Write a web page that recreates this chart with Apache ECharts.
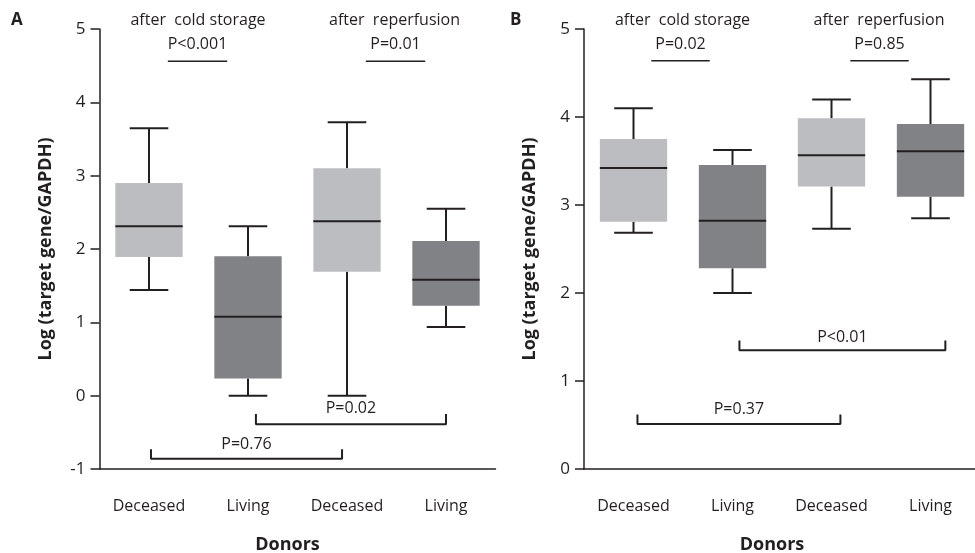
<!DOCTYPE html>
<html><head><meta charset="utf-8">
<script src="https://cdn.jsdelivr.net/npm/echarts@6/dist/echarts.min.js"></script>
<style>html,body{margin:0;padding:0;background:#fff}#c{width:975px;height:553px}</style>
</head><body><div id="c"></div>
<script>
// ---------- data ----------
const categories = ['Deceased', 'Living', 'Deceased', 'Living'];
// [min, Q1, median, Q3, max]
const boxesA = [
  [1.44, 1.89, 2.31, 2.90, 3.645],
  [0.00, 0.235, 1.075, 1.90, 2.31],
  [0.00, 1.69, 2.38, 3.10, 3.73],
  [0.935, 1.225, 1.58, 2.11, 2.55]
];
const boxesB = [
  [2.685, 2.81, 3.42, 3.75, 4.10],
  [2.00, 2.28, 2.82, 3.455, 3.625],
  [2.73, 3.21, 3.565, 3.985, 4.20],
  [2.85, 3.095, 3.61, 3.92, 4.43]
];
const yTicksA = [-1, 0, 1, 2, 3, 4, 5];
const yTicksB = [0, 1, 2, 3, 4, 5];
const groupTitles = ['after  cold storage', 'after  reperfusion'];
// pairwise comparisons: [from (category position), to, bar level, end level, label, label level]
const pairsA = [
  [0.19, 0.79, 4.56, 4.56, 'P<0.001', 4.795],
  [2.19, 2.79, 4.56, 4.56, 'P=0.01', 4.795],
  [1.08, 3.0, -0.39, -0.25, 'P=0.02', -0.18],
  [0.02, 1.95, -0.86, -0.73, 'P=0.76', -0.66]
];
const pairsB = [
  [0.18, 0.77, 4.64, 4.64, 'P=0.02', 4.83],
  [2.19, 2.78, 4.64, 4.64, 'P=0.85', 4.83],
  [1.07, 3.15, 1.35, 1.46, 'P<0.01', 1.50],
  [0.04, 2.09, 0.51, 0.62, 'P=0.37', 0.68]
];
const titleLevelA = 5.123, titleLevelB = 5.102;
const titleCenters = [0.495, 2.48];

// ---------- styles ----------
const FONT = 'Open Sans';
const INK = '#231f20';
const boxColors = ['#bcbdc1', '#818286'];

const chart = echarts.init(document.getElementById('c'), null, {renderer: 'canvas'});

function renderBox(params, api) {
  const x = api.value(0);
  const lo = api.coord([x, api.value(1)]);
  const q1 = api.coord([x, api.value(2)]);
  const med = api.coord([x, api.value(3)]);
  const q3 = api.coord([x, api.value(4)]);
  const hi = api.coord([x, api.value(5)]);
  const band = api.size([1, 0])[0];
  const bw = band * 0.68, cw = band * 0.39;
  const cx = med[0];
  const ls = {stroke: INK, lineWidth: 2};
  return {
    type: 'group',
    children: [
      {type: 'line', shape: {x1: cx, y1: hi[1], x2: cx, y2: q3[1]}, style: ls},
      {type: 'line', shape: {x1: cx, y1: q1[1], x2: cx, y2: lo[1]}, style: ls},
      {type: 'line', shape: {x1: cx - cw / 2, y1: hi[1], x2: cx + cw / 2, y2: hi[1]}, style: ls},
      {type: 'line', shape: {x1: cx - cw / 2, y1: lo[1], x2: cx + cw / 2, y2: lo[1]}, style: ls},
      {type: 'rect', shape: {x: cx - bw / 2, y: q3[1], width: bw, height: q1[1] - q3[1]},
        style: {fill: boxColors[params.dataIndex % 2]}},
      {type: 'line', shape: {x1: cx - bw / 2, y1: med[1], x2: cx + bw / 2, y2: med[1]}, style: ls}
    ]
  };
}

function makeTextRenderer(texts) {
  return function (params, api) {
    const p = api.coord([api.value(0), api.value(1)]);
    return {
      type: 'text',
      style: {text: texts[params.dataIndex][2], x: p[0], y: p[1], align: 'center', verticalAlign: 'middle',
        fill: INK, font: '16px "' + FONT + '"'}
    };
  };
}

function panel(gi, boxes, pairs, titleLevel) {
  const series = [];
  series.push({
    type: 'custom', xAxisIndex: gi * 2, yAxisIndex: gi,
    renderItem: renderBox,
    encode: {x: 0, y: [1, 2, 3, 4, 5]},
    data: boxes.map((b, i) => [i].concat(b)),
    z: 3
  });
  pairs.forEach(p => {
    const pts = p[2] === p[3]
      ? [[p[0], p[2]], [p[1], p[2]]]
      : [[p[0], p[3]], [p[0], p[2]], [p[1], p[2]], [p[1], p[3]]];
    series.push({
      type: 'line', xAxisIndex: gi * 2 + 1, yAxisIndex: gi, data: pts,
      symbol: 'none', silent: true, animation: false,
      lineStyle: {color: INK, width: p[2] === p[3] ? 1.5 : 2, cap: 'butt'}
    });
  });
  const texts = pairs.map(p => [(p[0] + p[1]) / 2, p[5], p[4]]);
  groupTitles.forEach((t, i) => texts.push([titleCenters[i], titleLevel, t]));
  series.push({
    type: 'custom', xAxisIndex: gi * 2 + 1, yAxisIndex: gi, renderItem: makeTextRenderer(texts),
    encode: {x: 0, y: 1},
    data: texts.map(t => [t[0], t[1]]), clip: false, z: 5
  });
  return series;
}

const xCat = (gi) => ({
  type: 'category', gridIndex: gi, data: categories, boundaryGap: true,
  axisLine: {onZero: false, lineStyle: {color: INK, width: 1.5}},
  axisTick: {alignWithLabel: true, length: 10, lineStyle: {color: INK, width: 1.5}},
  axisLabel: {color: INK, fontFamily: FONT, fontSize: 16, margin: 29},
  name: 'Donors', nameLocation: 'middle', nameGap: 67,
  nameTextStyle: {color: INK, fontFamily: FONT, fontSize: 18, fontWeight: 'bold', padding: [0, 20, 0, 0]}
});
const xVal = (gi) => ({type: 'value', gridIndex: gi, min: -0.5, max: 3.5, show: false,
  axisLine: {onZero: false}});
const yAx = (gi, ticks) => ({
  type: 'value', gridIndex: gi, min: ticks[0], max: ticks[ticks.length - 1], interval: 1,
  splitLine: {show: false},
  axisLine: {show: true, onZero: false, lineStyle: {color: INK, width: 1.5}},
  axisTick: {show: true, length: 9, lineStyle: {color: INK, width: 1.5}},
  axisLabel: {color: INK, fontFamily: FONT, fontSize: 17, margin: 14},
  name: 'Log (target gene/GAPDH)', nameLocation: 'middle', nameGap: 45,
  nameTextStyle: {color: INK, fontFamily: FONT, fontSize: 18, fontWeight: 'bold'}
});

chart.setOption({
  animation: false,
  textStyle: {fontFamily: FONT},
  title: [
    {text: 'A', left: 6, top: 7, textStyle: {fontFamily: FONT, fontSize: 17, fontWeight: 'bold', color: INK}},
    {text: 'B', left: 505, top: 7, textStyle: {fontFamily: FONT, fontSize: 17, fontWeight: 'bold', color: INK}}
  ],
  grid: [
    {left: 99.5, top: 29, width: 396, height: 440, outerBoundsMode: 'none', containLabel: false},
    {left: 584, top: 29, width: 396, height: 440, outerBoundsMode: 'none', containLabel: false}
  ],
  xAxis: [xCat(0), xVal(0), xCat(1), xVal(1)],
  yAxis: [yAx(0, yTicksA), yAx(1, yTicksB)],
  series: panel(0, boxesA, pairsA, titleLevelA).concat(panel(1, boxesB, pairsB, titleLevelB))
});
</script></body></html>
